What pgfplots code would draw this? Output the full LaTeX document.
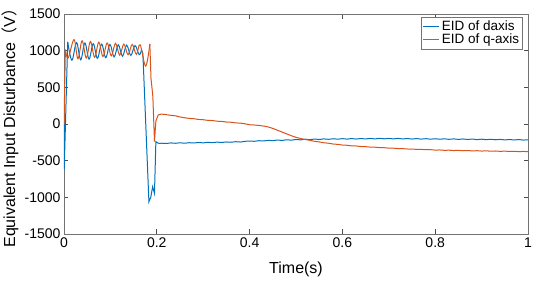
\documentclass[border=0pt]{standalone}
\usepackage{fontspec}
\setmainfont{Liberation Sans}
\newfontfamily\cjk{Noto Sans CJK SC}
\usepackage{pgfplots}
\pgfplotsset{compat=1.18}
\definecolor{mblue}{rgb}{0,0.447,0.741}
\definecolor{morange}{rgb}{0.85,0.325,0.098}
\definecolor{axgray}{rgb}{0.45,0.45,0.45}
\begin{document}
\begin{tikzpicture}
\useasboundingbox (-64pt,-47pt) rectangle (469pt,234pt);
\begin{axis}[
  at={(0pt,0pt)}, anchor=south west,
  scale only axis, width=464pt, height=220pt,
  xmin=0, xmax=1, ymin=-1500, ymax=1500,
  xtick={0,0.2,0.4,0.6,0.8,1}, ytick={-1500,-1000,-500,0,500,1000,1500},
  xticklabels={0,0.2,0.4,0.6,0.8,1},
  scaled ticks=false,
  /pgf/number format/assume math mode=true,
  /pgf/number format/1000 sep={},
  tick align=inside, major tick length=4.5pt,
  axis line style={axgray, line width=0.7pt},
  every tick/.style={black!70, line width=0.6pt},
  tick label style={font=\fontsize{14}{16}\selectfont},
  xlabel={Time(s)},
  ylabel={Equivalent Input Disturbance{\cjk （}V{\cjk ）}},
  label style={font=\fontsize{16}{18}\selectfont},
  xlabel style={at={(axis description cs:0.5,-0.159)}, anchor=center},
  ylabel style={at={(axis description cs:-0.1164,0.5)}, anchor=center},
  legend style={at={(axis description cs:0.989,0.986)}, anchor=north east,
    font=\fontsize{13.5}{14}\selectfont, draw=black!55, inner sep=1.5pt,
    row sep=-2pt, cells={anchor=west}},
  legend image code/.code={\draw[#1, line width=1.1pt] (0pt,0pt) -- (16pt,0pt);},
]
% d-axis
\addplot[mblue, line width=1pt, forget plot] coordinates {(0,0) (0.0005,-614) (0.008,1120)};
\addplot[mblue, line width=1pt, smooth, tension=0.6, forget plot] coordinates {
(0.008,1120) (0.017,870) (0.027,1110) (0.036,875)
(0.045,1105) (0.054,885) (0.063,1095) (0.072,895) (0.081,1090) (0.090,905)
(0.099,1085) (0.108,915) (0.117,1080) (0.126,925) (0.135,1075) (0.144,935)
(0.153,1070) (0.162,945) (0.167,1010)};
\addplot[mblue, line width=1pt] coordinates {
(0.167,1010) (0.170,964) (0.183,-1059) (0.187,-1000) (0.191,-855)
(0.195,-946) (0.198,-241) (0.203,-262) (0.207,-264)
(0.21,-262) (0.22,-266) (0.23,-258) (0.24,-263) (0.25,-256) (0.26,-262) (0.27,-255) (0.28,-259) (0.29,-252) (0.30,-257)
(0.31,-250) (0.32,-254) (0.33,-247) (0.34,-252) (0.35,-245) (0.36,-249) (0.37,-241) (0.38,-246) (0.39,-236) (0.40,-232)
(0.41,-236) (0.42,-228) (0.43,-231) (0.44,-223) (0.45,-227) (0.46,-219) (0.47,-224) (0.48,-215) (0.49,-220) (0.50,-211)
(0.51,-216) (0.52,-207) (0.53,-213) (0.54,-205) (0.55,-211) (0.56,-203) (0.57,-209) (0.58,-201) (0.59,-207) (0.60,-200)
(0.61,-206) (0.62,-199) (0.63,-205) (0.64,-198) (0.65,-204) (0.66,-197) (0.67,-203) (0.68,-196) (0.69,-202) (0.70,-197)
(0.71,-203) (0.72,-196) (0.73,-204) (0.74,-198) (0.75,-205) (0.76,-199) (0.77,-206) (0.78,-200) (0.79,-207) (0.80,-201)
(0.81,-208) (0.82,-202) (0.83,-209) (0.84,-203) (0.85,-210) (0.86,-204) (0.87,-211) (0.88,-205) (0.89,-213) (0.90,-207)
(0.91,-214) (0.92,-208) (0.93,-215) (0.94,-210) (0.95,-217) (0.96,-211) (0.97,-218) (0.98,-212) (0.99,-219) (1.00,-216)
};
\addlegendentry{EID of daxis}
% q-axis
\addplot[morange, line width=1pt, forget plot] coordinates {(0,0) (0.003,1013)};
\addplot[morange, line width=1pt, smooth, tension=0.6, forget plot] coordinates {
(0.003,1013) (0.009,900) (0.0216,1150) (0.030,890) (0.039,1135) (0.048,900)
(0.057,1125) (0.066,910) (0.075,1115) (0.084,920) (0.093,1105) (0.102,930)
(0.111,1100) (0.120,940) (0.129,1090) (0.138,945) (0.147,1085) (0.156,950)
(0.164,1080) (0.176,790) (0.185,1091)};
\addplot[morange, line width=1pt] coordinates {
(0.185,1091) (0.1875,620) (0.190,470) (0.1915,373)
(0.195,-241) (0.198,40) (0.203,123) (0.210,136)
(0.22,128) (0.23,118) (0.24,112) (0.25,96) (0.26,85) (0.27,76) (0.28,72) (0.29,62) (0.30,58)
(0.31,50) (0.32,47) (0.33,38) (0.34,35) (0.35,27) (0.36,24) (0.37,15) (0.38,12) (0.39,3) (0.40,-10)
(0.41,-14) (0.42,-20) (0.43,-28) (0.44,-40) (0.45,-60) (0.46,-85) (0.47,-110) (0.48,-135) (0.49,-160) (0.50,-182)
(0.51,-198) (0.52,-212) (0.53,-222) (0.54,-236) (0.55,-244) (0.56,-256) (0.57,-262) (0.58,-273) (0.59,-278) (0.60,-287)
(0.61,-290) (0.62,-298) (0.63,-300) (0.64,-307) (0.65,-309) (0.66,-315) (0.67,-316) (0.68,-322) (0.69,-323) (0.70,-329)
(0.71,-330) (0.72,-335) (0.73,-336) (0.74,-341) (0.75,-341) (0.76,-346) (0.77,-346) (0.78,-351) (0.79,-350) (0.80,-356)
(0.81,-354) (0.82,-359) (0.83,-357) (0.84,-362) (0.85,-360) (0.86,-365) (0.87,-362) (0.88,-367) (0.89,-364) (0.90,-369)
(0.91,-366) (0.92,-371) (0.93,-368) (0.94,-373) (0.95,-370) (0.96,-375) (0.97,-372) (0.98,-377) (0.99,-374) (1.00,-378)
};
\addlegendentry{EID of q-axis}
\end{axis}
\end{tikzpicture}
\end{document}
